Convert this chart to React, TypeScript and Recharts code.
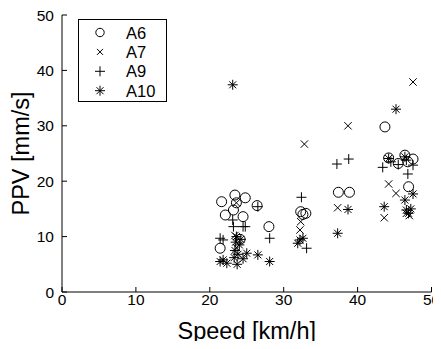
import React from "react";
import { ScatterChart, Scatter, XAxis, YAxis, Legend } from "recharts";

const a6X = [21.4, 21.6, 22.1, 23.2, 23.4, 23.6, 24.1, 24.5, 24.8, 26.4, 28.0, 32.3, 32.6, 33.0, 37.4, 38.9, 43.7, 44.2, 45.5, 46.4, 46.8, 47.5, 46.9];
const a6Y = [7.9, 16.3, 13.9, 14.8, 17.5, 16.1, 9.5, 13.6, 17.0, 15.6, 11.8, 14.5, 14.0, 14.2, 18.0, 18.0, 29.8, 24.2, 23.2, 24.7, 23.5, 24.0, 19.0];

const a7X = [23.6, 23.4, 23.6, 32.3, 32.2, 32.8, 37.3, 38.7, 43.6, 44.2, 45.2, 46.6, 47.0, 47.5];
const a7Y = [16.1, 10.2, 8.0, 12.7, 11.2, 26.7, 15.2, 30.0, 13.4, 19.5, 17.8, 14.2, 13.8, 37.9];

const a9X = [21.4, 21.8, 23.1, 23.2, 24.5, 24.8, 26.5, 28.1, 32.4, 33.1, 37.2, 38.8, 43.4, 44.5, 45.5, 46.6, 46.8, 47.5];
const a9Y = [9.7, 9.4, 13.0, 11.8, 11.8, 11.8, 15.4, 9.7, 17.1, 7.9, 23.1, 24.0, 22.5, 23.5, 23.0, 23.8, 21.3, 22.9];

const a10X = [21.4, 21.8, 22.3, 23.1, 23.3, 23.4, 23.5, 23.6, 23.7, 23.8, 24.0, 24.2, 24.5, 25.0, 26.5, 28.1, 31.9, 32.2, 32.6, 37.3, 38.7, 43.6, 44.2, 45.2, 46.4, 46.4, 46.6, 46.9, 47.2, 47.5];
const a10Y = [5.5, 5.8, 5.2, 37.4, 6.2, 7.5, 9.0, 10.0, 5.0, 6.8, 8.5, 9.5, 6.0, 7.0, 6.7, 5.5, 8.8, 9.4, 9.7, 10.6, 14.9, 15.4, 24.1, 33.0, 24.4, 16.6, 14.8, 14.2, 15.0, 17.7];

const xTicks = [0, 10, 20, 30, 40, 50];
const yTicks = [0, 10, 20, 30, 40, 50];
const seriesNames = ["A6", "A7", "A9", "A10"];

const zip = (xs: number[], ys: number[]) => xs.map((x, i) => ({ x, y: ys[i] }));

const FONT = "'Liberation Sans', Arial, Helvetica, sans-serif";
const TICK = 5;

const Circle = ({ cx, cy }: any) => <circle cx={cx} cy={cy} r={5} fill="none" stroke="#000" strokeWidth={1} />;
const Cross = ({ cx, cy }: any) => (
  <path d={`M${cx - 3.7},${cy - 3.7}L${cx + 3.7},${cy + 3.7}M${cx - 3.7},${cy + 3.7}L${cx + 3.7},${cy - 3.7}`} stroke="#000" strokeWidth={1} fill="none" />
);
const Plus = ({ cx, cy }: any) => (
  <path d={`M${cx - 5},${cy}L${cx + 5},${cy}M${cx},${cy - 5}L${cx},${cy + 5}`} stroke="#000" strokeWidth={1} fill="none" />
);
const Star = ({ cx, cy }: any) => (
  <path
    d={`M${cx - 5},${cy}L${cx + 5},${cy}M${cx},${cy - 5}L${cx},${cy + 5}M${cx - 3.5},${cy - 3.5}L${cx + 3.5},${cy + 3.5}M${cx - 3.5},${cy + 3.5}L${cx + 3.5},${cy - 3.5}`}
    stroke="#000"
    strokeWidth={1}
    fill="none"
  />
);
const shapes = [Circle, Cross, Plus, Star];

const BottomTick = ({ x, y, payload }: any) => (
  <g>
    <line x1={x} y1={y} x2={x} y2={y - TICK} stroke="#000" strokeWidth={1} />
    <text x={x} y={y + 13} textAnchor="middle" fontSize={15.5} fontFamily={FONT} fill="#000">
      {payload.value}
    </text>
  </g>
);
const TopTick = ({ x, y }: any) => <line x1={x} y1={y} x2={x} y2={y + TICK} stroke="#000" strokeWidth={1} />;
const LeftTick = ({ x, y, payload }: any) => (
  <g>
    <line x1={x} y1={y} x2={x + TICK} y2={y} stroke="#000" strokeWidth={1} />
    <text x={x - 8} y={y + 5.5} textAnchor="end" fontSize={15.5} fontFamily={FONT} fill="#000">
      {payload.value}
    </text>
  </g>
);
const RightTick = ({ x, y }: any) => <line x1={x} y1={y} x2={x - TICK} y2={y} stroke="#000" strokeWidth={1} />;

const LegendBox = () => (
  <svg width={90} height={84} style={{ display: "block" }}>
    <rect x={0.5} y={0.5} width={88} height={82} fill="#fff" stroke="#000" strokeWidth={1} />
    {seriesNames.map((n, i) => {
      const Shape = shapes[i];
      const cy = 13.5 + i * 19.4;
      return (
        <g key={n}>
          {i === 0 ? (
            <circle cx={22} cy={cy} r={4.2} fill="none" stroke="#000" strokeWidth={1} />
          ) : i === 1 ? (
            <path d={`M${22 - 3},${cy - 3}L${22 + 3},${cy + 3}M${22 - 3},${cy + 3}L${22 + 3},${cy - 3}`} stroke="#000" fill="none" />
          ) : (
            <Shape cx={22} cy={cy} />
          )}
          <text x={48} y={cy + 6} fontSize={16.5} fontFamily={FONT} fill="#000">
            {n}
          </text>
        </g>
      );
    })}
  </svg>
);

export default function App() {
  const data = [zip(a6X, a6Y), zip(a7X, a7Y), zip(a9X, a9Y), zip(a10X, a10Y)];
  return (
    <div style={{ margin: -8, width: 441, height: 349, overflow: "hidden" }}>
      <ScatterChart width={441} height={349} margin={{ top: 15, right: 9.5, left: 0, bottom: 0 }} style={{ fontFamily: FONT }}>
        <XAxis
          xAxisId="b"
          type="number"
          dataKey="x"
          domain={[0, 50]}
          ticks={xTicks}
          height={57}
          tickSize={0}
          tickMargin={0}
          tickLine={false}
          tick={<BottomTick />}
          axisLine={{ stroke: "#000", strokeWidth: 1 }}
          interval={0}
          label={{ value: "Speed [km/h]", position: "insideBottom", offset: 10, fontSize: 23.5, fill: "#000", fontFamily: FONT }}
        />
        <XAxis
          xAxisId="t"
          orientation="top"
          type="number"
          dataKey="x"
          domain={[0, 50]}
          ticks={xTicks}
          height={0}
          tickSize={0}
          tickMargin={0}
          tickLine={false}
          tick={<TopTick />}
          axisLine={{ stroke: "#000", strokeWidth: 1 }}
          interval={0}
        />
        <YAxis
          yAxisId="l"
          type="number"
          dataKey="y"
          domain={[0, 50]}
          ticks={yTicks}
          width={62}
          tickSize={0}
          tickMargin={0}
          tickLine={false}
          tick={<LeftTick />}
          axisLine={{ stroke: "#000", strokeWidth: 1 }}
          interval={0}
          label={{ value: "PPV [mm/s]", angle: -90, position: "insideLeft", offset: 21, fontSize: 23.5, fill: "#000", fontFamily: FONT, style: { textAnchor: "middle" } }}
        />
        <YAxis
          yAxisId="r"
          orientation="right"
          type="number"
          dataKey="y"
          domain={[0, 50]}
          ticks={yTicks}
          width={0}
          tickSize={0}
          tickMargin={0}
          tickLine={false}
          tick={<RightTick />}
          axisLine={{ stroke: "#000", strokeWidth: 1 }}
          interval={0}
        />
        {data.map((d, i) => (
          <Scatter key={seriesNames[i]} name={seriesNames[i]} data={d} xAxisId="b" yAxisId="l" shape={shapes[i]} isAnimationActive={false} />
        ))}
        <Legend
          layout="vertical"
          align="center"
          verticalAlign="middle"
          content={() => <LegendBox />}
          wrapperStyle={{ position: "absolute", left: 78, top: 19, width: 90, height: 84 }}
        />
      </ScatterChart>
    </div>
  );
}
